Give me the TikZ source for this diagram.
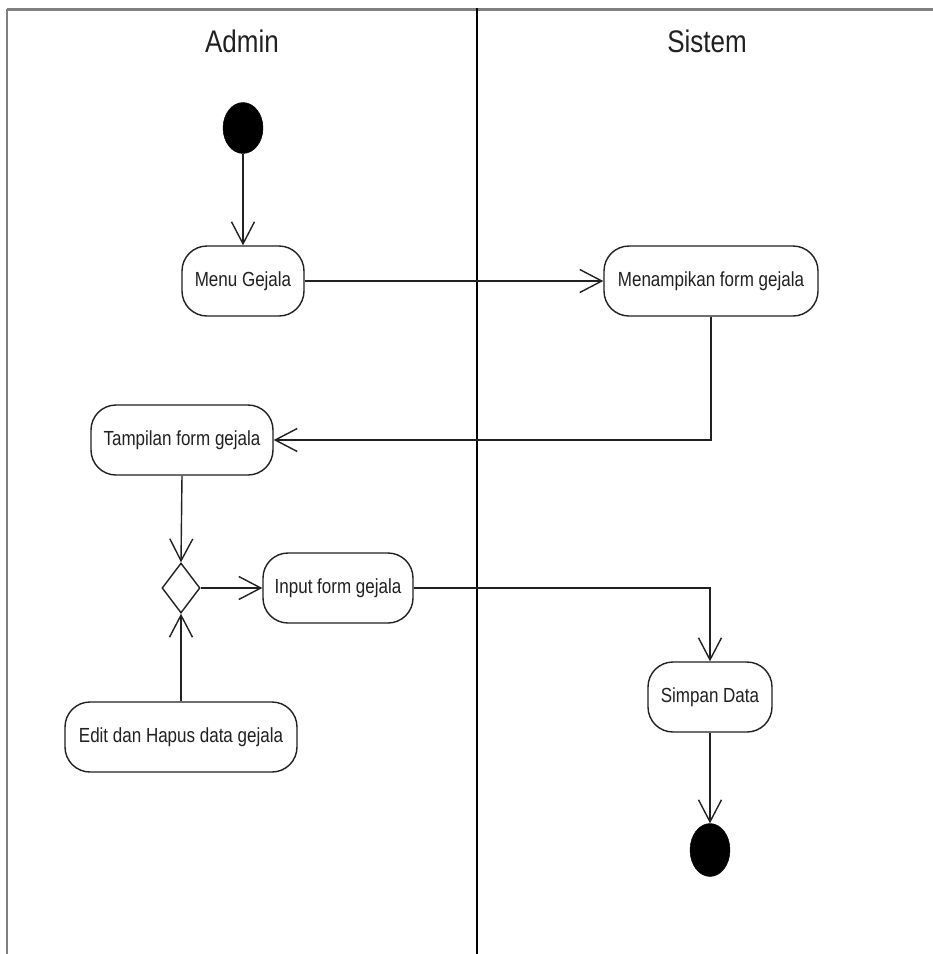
\documentclass[tikz,border=0pt]{standalone}
\usepackage{fontspec}
\setmainfont{Liberation Sans}
\usetikzlibrary{arrows.meta,shapes.geometric}

\definecolor{ink}{rgb}{0.13,0.13,0.13}
\definecolor{framegray}{rgb}{0.50,0.50,0.50}

\tikzset{
  activity/.style={draw=ink, line width=1.4pt, rounded corners=25pt,
    minimum height=70pt, inner sep=0pt, align=center, text=ink,
    font=\fontsize{17}{20}\selectfont},
  terminal/.style={ellipse, fill=black, draw=black, inner sep=0pt,
    minimum width=40pt, minimum height=51pt},
  branch/.style={diamond, draw=ink, line width=1.4pt, inner sep=0pt,
    minimum width=38pt, minimum height=50pt},
  flow/.style={draw=ink, line width=1.4pt,
    -{Straight Barb[length=22pt,width=23pt,line width=1.4pt]}},
  lanetitle/.style={text=ink, inner sep=0pt, font=\fontsize{26}{30}\selectfont}
}
% stretched text, as in the diagram's lettering
\newcommand{\tall}[1]{\scalebox{1}[1.2]{#1}}

\begin{document}
\begin{tikzpicture}[x=1pt, y=-1pt]
  \useasboundingbox (0,0) rectangle (933,954);
  \fill[white] (0,0) rectangle (933,954);

  % swimlane frame
  \draw[framegray, line width=3pt] (7,9) -- (933,9);
  \draw[framegray, line width=2.5pt] (7,9) -- (7,954);
  \draw[black, line width=1.5pt] (477,8) -- (477,954);

  % lane titles
  \node[lanetitle] (admin) at (242,41) {\tall{Admin}};
  \node[lanetitle] (sistem) at (707,41) {\tall{Sistem}};

  % activities
  \node[terminal] (start) at (243,128) {};
  \node[activity, minimum width=122pt] (menu) at (243,281) {\tall{Menu Gejala}};
  \node[activity, minimum width=214pt] (tampilkan) at (711,281) {\tall{Menampikan form gejala}};
  \node[activity, minimum width=182pt] (tampilan) at (182,440) {\tall{Tampilan form gejala}};
  \node[branch] (dec) at (181,588) {};
  \node[activity, minimum width=150pt] (input) at (338,588) {\tall{Input form gejala}};
  \node[activity, minimum width=232pt] (edit) at (181,737) {\tall{Edit dan Hapus data gejala}};
  \node[activity, minimum width=124pt] (simpan) at (710,697) {\tall{Simpan Data}};
  \node[terminal, minimum height=53pt] (end) at (710,850) {};

  % control flow
  \draw[flow] (start) -- (menu);
  \draw[flow] (menu.east) -- (tampilkan.west);
  \draw[flow] (tampilkan.south) |- (tampilan.east);
  \draw[flow] (tampilan.south) -- (dec.north);
  \draw[flow] (dec.east) -- (input.west);
  \draw[flow] (edit.north) -- (dec.south);
  \draw[flow] (input.east) -| (simpan.north);
  \draw[flow] (simpan.south) -- (end.north);
\end{tikzpicture}
\end{document}
